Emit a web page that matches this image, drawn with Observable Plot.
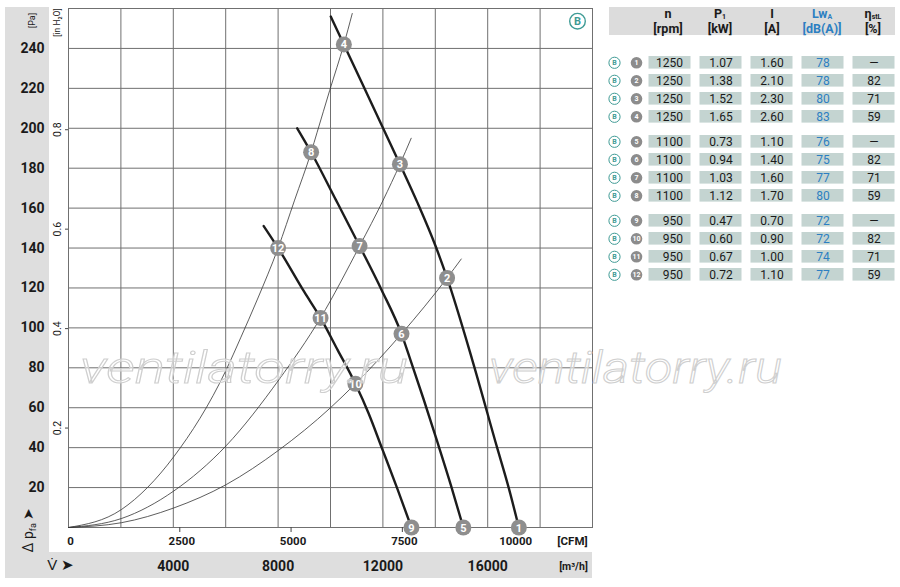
<!DOCTYPE html>
<html>
<head>
<meta charset="utf-8">
<script src="https://cdn.jsdelivr.net/npm/d3@7"></script>
<script src="https://cdn.jsdelivr.net/npm/@observablehq/plot@0.6"></script>
<style>
html, body { margin: 0; padding: 0; background: #fff; }
#wrap { position: relative; width: 900px; height: 587px; overflow: hidden; background: #fff;
  font-family: Roboto, 'Liberation Sans', sans-serif; color: #1a1a1a; }
.abs { position: absolute; }
.hd { position: absolute; width: 50px; height: 12px; text-align: center; font-size: 12.5px; font-weight: bold; line-height: 12px; }
.hd sub { font-size: 7px; vertical-align: -1px; line-height: 0; }
.blue { color: #2c7fc2; }
</style>
</head>
<body>
<div id="wrap">
  <div class="abs" style="left:5px;top:7px;width:44px;height:545px;background:#dedede"></div>
  <div class="abs" style="left:5px;top:552px;width:587px;height:26px;background:#dedede"></div>
  <div id="chart" class="abs" style="left:0;top:0"></div>
  <div id="table" class="abs" style="left:600px;top:0"></div>

  <div class="abs" style="left:609px;top:7px;width:286px;height:28px;background:#dcdcdc"></div>
  <div class="hd" style="left:643px;top:8px">n</div>
  <div class="hd" style="left:643px;top:23px">[rpm]</div>
  <div class="hd" style="left:695px;top:8px">P<sub>1</sub></div>
  <div class="hd" style="left:695px;top:23px">[kW]</div>
  <div class="hd" style="left:747px;top:8px">I</div>
  <div class="hd" style="left:747px;top:23px">[A]</div>
  <div class="hd blue" style="left:797px;top:8px">Lw<sub>A</sub></div>
  <div class="hd blue" style="left:797px;top:23px">[dB(A)]</div>
  <div class="hd" style="left:848px;top:8px">η<sub>stL</sub></div>
  <div class="hd" style="left:848px;top:23px">[%]</div>

  <div class="abs" style="left:-2px;top:521px;width:60px;height:18px;line-height:18px;text-align:center;font-size:14px;transform:rotate(-90deg);white-space:nowrap">Δ p<sub style="font-size:9px;vertical-align:-3px;line-height:0">fa</sub> ➤</div>

  <svg class="abs" style="left:0;top:0;pointer-events:none" width="900" height="587">
    <text x="80" y="383" font-size="44" font-style="italic" font-weight="300" textLength="328" lengthAdjust="spacingAndGlyphs"
      fill="rgba(255,255,255,0.5)" stroke="#cfcfcf" stroke-width="1"
      font-family="Roboto, 'Liberation Sans', sans-serif">ventilatorry.ru</text>
    <text x="489" y="383" font-size="44" font-style="italic" font-weight="300" textLength="293" lengthAdjust="spacingAndGlyphs"
      fill="rgba(255,255,255,0.5)" stroke="#cfcfcf" stroke-width="1"
      font-family="Roboto, 'Liberation Sans', sans-serif">ventilatorry.ru</text>
  </svg>
</div>
<script>
const FONT = "Roboto, 'Liberation Sans', sans-serif";
const TEAL = "#3f9b95";
const CFM_TO_M3H = 1.699;
const PA_PER_INH2O = 249.089;

// ---- axis ticks ----
const paTicks = [20, 40, 60, 80, 100, 120, 140, 160, 180, 200, 220, 240];
const paGrid = [20, 40, 60, 80, 100, 120, 140, 160, 180, 200, 220, 240];
const flowGrid = [2000, 4000, 6000, 8000, 10000, 12000, 14000, 16000, 18000];
const m3hTicks = [4000, 8000, 12000, 16000];
const cfmTicks = [0, 2500, 5000, 7500, 10000];
const inH2OTicks = [0.2, 0.4, 0.6, 0.8];

// ---- fan curves (m³/h, Pa) ----
const fan1250Flow = [10010, 10510, 12650, 13310, 14010, 14450, 15410, 16360, 16800, 17190];
const fan1250Pa   = [256,   242,   182,   163,   141,   125,   84,    40,    20,    0];
const fan1100Flow = [8730, 9260, 10210, 11110, 11950, 12710, 13050, 13560, 14100, 14600, 15070];
const fan1100Pa   = [200,  188,  164,   141,   119,   97,    84,    64,    42,    21,    0];
const fan950Flow  = [7450, 8000, 9000, 9620, 10270, 10950, 11460, 11970, 12550, 13090];
const fan950Pa    = [151,  140,  118,  105,  89,    72,    57,    39.5,  19.5,  0];

// ---- system curves ----
const sys1Flow = [0, 2020, 4020, 6020, 6570, 7200, 8000, 8630, 9260, 9490, 9970, 10510, 10830];
const sys1Pa   = [0, 9,    35.5, 79,   95,   114,  140,  164,  188,  198,  219,  242,   257.5];
const sys2Flow = [0, 2020, 4020, 6020, 8030, 9620, 11110, 12010, 12650, 13080];
const sys2Pa   = [0, 4.5,  18.3, 41,   74,   105,  141,   164,   182,   195];
const sys3Flow = [0, 2020, 4020, 6020, 8030, 10000, 10950, 12710, 14450, 14990];
const sys3Pa   = [0, 2.4,  9.8,  21.5, 38.8, 60,    72,    97,    125,   134.5];

// ---- operating points ----
const pointIds      = [1, 2, 3, 4, 5, 6, 7, 8, 9, 10, 11, 12];
const pointFlow     = [17190, 14450, 12650, 10510, 15070, 12710, 11110, 9260, 13090, 10950, 9620, 8000];
const pointPressure = [0, 125, 182, 242, 0, 97, 141, 188, 0, 72, 105, 140];

// ---- table ----
const rpm     = [1250, 1250, 1250, 1250, 1100, 1100, 1100, 1100, 950, 950, 950, 950];
const power   = ["1.07", "1.38", "1.52", "1.65", "0.73", "0.94", "1.03", "1.12", "0.47", "0.60", "0.67", "0.72"];
const current = ["1.60", "2.10", "2.30", "2.60", "1.10", "1.40", "1.60", "1.70", "0.70", "0.90", "1.00", "1.10"];
const lwa     = [78, 78, 80, 83, 76, 75, 77, 80, 72, 72, 74, 77];
const eta     = ["—", "82", "71", "59", "—", "82", "71", "59", "—", "82", "71", "59"];
const tableCols = ["n", "P1", "I", "LwA", "eta"];
const groupOrder = [1250, 1100, 950];

function rows(name, flows, pas) { return flows.map((q, i) => ({name, q, p: pas[i]})); }
const fanRows = [...rows("1250", fan1250Flow, fan1250Pa), ...rows("1100", fan1100Flow, fan1100Pa), ...rows("950", fan950Flow, fan950Pa)];
const sysRows = [...rows("s1", sys1Flow, sys1Pa), ...rows("s2", sys2Flow, sys2Pa), ...rows("s3", sys3Flow, sys3Pa)];
const points = pointIds.map((id, i) => ({id, q: pointFlow[i], p: pointPressure[i]}));

const C = {textAnchor: "middle", lineAnchor: "middle"};

const chart = Plot.plot({
  width: 600, height: 587,
  marginLeft: 68, marginRight: 8, marginTop: 8, marginBottom: 60,
  x: {domain: [0, 20000]},
  y: {domain: [0, 260]},
  style: {background: "transparent", fontFamily: FONT, color: "#1a1a1a", overflow: "visible"},
  marks: [
    Plot.gridX(flowGrid, {stroke: "#707070", strokeOpacity: 1, strokeWidth: 1}),
    Plot.gridY(paGrid, {stroke: "#707070", strokeOpacity: 1, strokeWidth: 1}),
    Plot.frame({stroke: "#707070", strokeWidth: 1}),
    Plot.axisY(paTicks, {tickSize: 0, tickPadding: 24, fontSize: 14, fontWeight: "bold", label: null}),
    Plot.axisY(inH2OTicks.map(v => v * PA_PER_INH2O), {tickSize: 3, tickFormat: () => "", label: null, stroke: "#444"}),
    Plot.text(inH2OTicks, {...C, y: d => d * PA_PER_INH2O, text: d => d.toFixed(1), frameAnchor: "left", dx: -11, rotate: -90, fontSize: 10.5}),
    Plot.axisX(cfmTicks.slice(1).map(c => c * CFM_TO_M3H), {tickSize: 5, tickFormat: () => "", label: null, stroke: "#444"}),
    Plot.text(cfmTicks, {...C, x: d => d * CFM_TO_M3H, text: d => String(d), frameAnchor: "bottom", dy: 14, dx: 2, fontSize: 11.5, fontWeight: "bold"}),
    Plot.text(["[CFM]"], {...C, frameAnchor: "bottom-right", dx: -20, dy: 14, fontSize: 11.5, fontWeight: "bold"}),
    Plot.text(m3hTicks, {...C, x: d => d, text: d => String(d), frameAnchor: "bottom", dy: 39, fontSize: 14, fontWeight: "bold"}),
    Plot.text(["[m³/h]"], {...C, frameAnchor: "bottom-right", dx: -19, dy: 39, fontSize: 10.5, fontWeight: "bold"}),
    Plot.text(["V̇ ➤"], {...C, frameAnchor: "bottom-left", dx: -8, dy: 38, fontSize: 15}),
    Plot.text(["[Pa]"], {...C, frameAnchor: "top-left", dx: -36, dy: 12, rotate: -90, fontSize: 9}),
    Plot.text(["[in H₂O]"], {...C, frameAnchor: "top-left", dx: -11, dy: 14, rotate: -90, fontSize: 8.5}),
    Plot.dot(["B"], {frameAnchor: "top-right", dx: -15, dy: 12.7, r: 7.8, stroke: TEAL, strokeWidth: 1.4, fill: "white"}),
    Plot.text(["B"], {...C, frameAnchor: "top-right", dx: -15, dy: 13, fontSize: 11, fontWeight: "bold", fill: TEAL}),
    Plot.line(sysRows, {x: "q", y: "p", z: "name", stroke: "#333", strokeWidth: 0.8, curve: "monotone-x"}),
    Plot.line(fanRows, {x: "q", y: "p", z: "name", stroke: "#1c1c1c", strokeWidth: 2.4, curve: "monotone-x"}),
    Plot.dot(points, {x: "q", y: "p", r: 8, fill: "#8e8e8e", stroke: "none"}),
    Plot.text(points, {...C, x: "q", y: "p", text: d => String(d.id), fill: "white", fontWeight: "bold", fontSize: 11, dy: 0.5})
  ]
});
document.getElementById("chart").appendChild(chart);

// table data (long format)
const rowData = pointIds.map((id, i) => ({id, group: rpm[i], row: i % 4}));
const cellData = [];
rowData.forEach((r, i) => {
  const vals = [String(rpm[i]), power[i], current[i], String(lwa[i]), eta[i]];
  tableCols.forEach((c, j) => cellData.push({...r, col: c, value: vals[j]}));
});

const table = Plot.plot({
  width: 300, height: 300,
  marginLeft: 43.5, marginRight: 0.5, marginTop: 51.7, marginBottom: 14.6,
  x: {domain: tableCols, padding: 0, axis: null},
  y: {domain: [0, 1, 2, 3], padding: 0, axis: null},
  fy: {domain: groupOrder, paddingInner: 0.0567, paddingOuter: 0, axis: null},
  style: {background: "transparent", fontFamily: FONT, color: "#1a1a1a", overflow: "visible"},
  marks: [
    Plot.cell(cellData, {x: "col", y: "row", fy: "group", fill: "#c4d4d1", insetLeft: 4.5, insetRight: 4.5, insetTop: 2.7, insetBottom: 2.7}),
    Plot.text(cellData.filter(d => d.col === "n"), {x: "col", y: "row", fy: "group", text: "value", textAnchor: "end", lineAnchor: "middle", dx: 13, fontSize: 12}),
    Plot.text(cellData.filter(d => d.col !== "n" && d.col !== "LwA"), {...C, x: "col", y: "row", fy: "group", text: "value", fontSize: 12}),
    Plot.text(cellData.filter(d => d.col === "LwA"), {...C, x: "col", y: "row", fy: "group", text: "value", fontSize: 12, fill: "#2c7fc2"}),
    Plot.dot(rowData, {y: "row", fy: "group", frameAnchor: "left", dx: -29.5, r: 5.6, stroke: TEAL, strokeWidth: 1, fill: "white"}),
    Plot.text(rowData, {...C, y: "row", fy: "group", frameAnchor: "left", dx: -29.5, dy: 0.3, text: () => "B", fontSize: 7, fill: TEAL, fontWeight: "bold"}),
    Plot.dot(rowData, {y: "row", fy: "group", frameAnchor: "left", dx: -7.5, r: 5.8, fill: "#8c8c8c"}),
    Plot.text(rowData, {...C, y: "row", fy: "group", frameAnchor: "left", dx: -7.5, dy: 0.3, text: d => String(d.id), fontSize: 7, fill: "white", fontWeight: "bold", letterSpacing: -0.5})
  ]
});
document.getElementById("table").appendChild(table);
</script>
</body>
</html>
